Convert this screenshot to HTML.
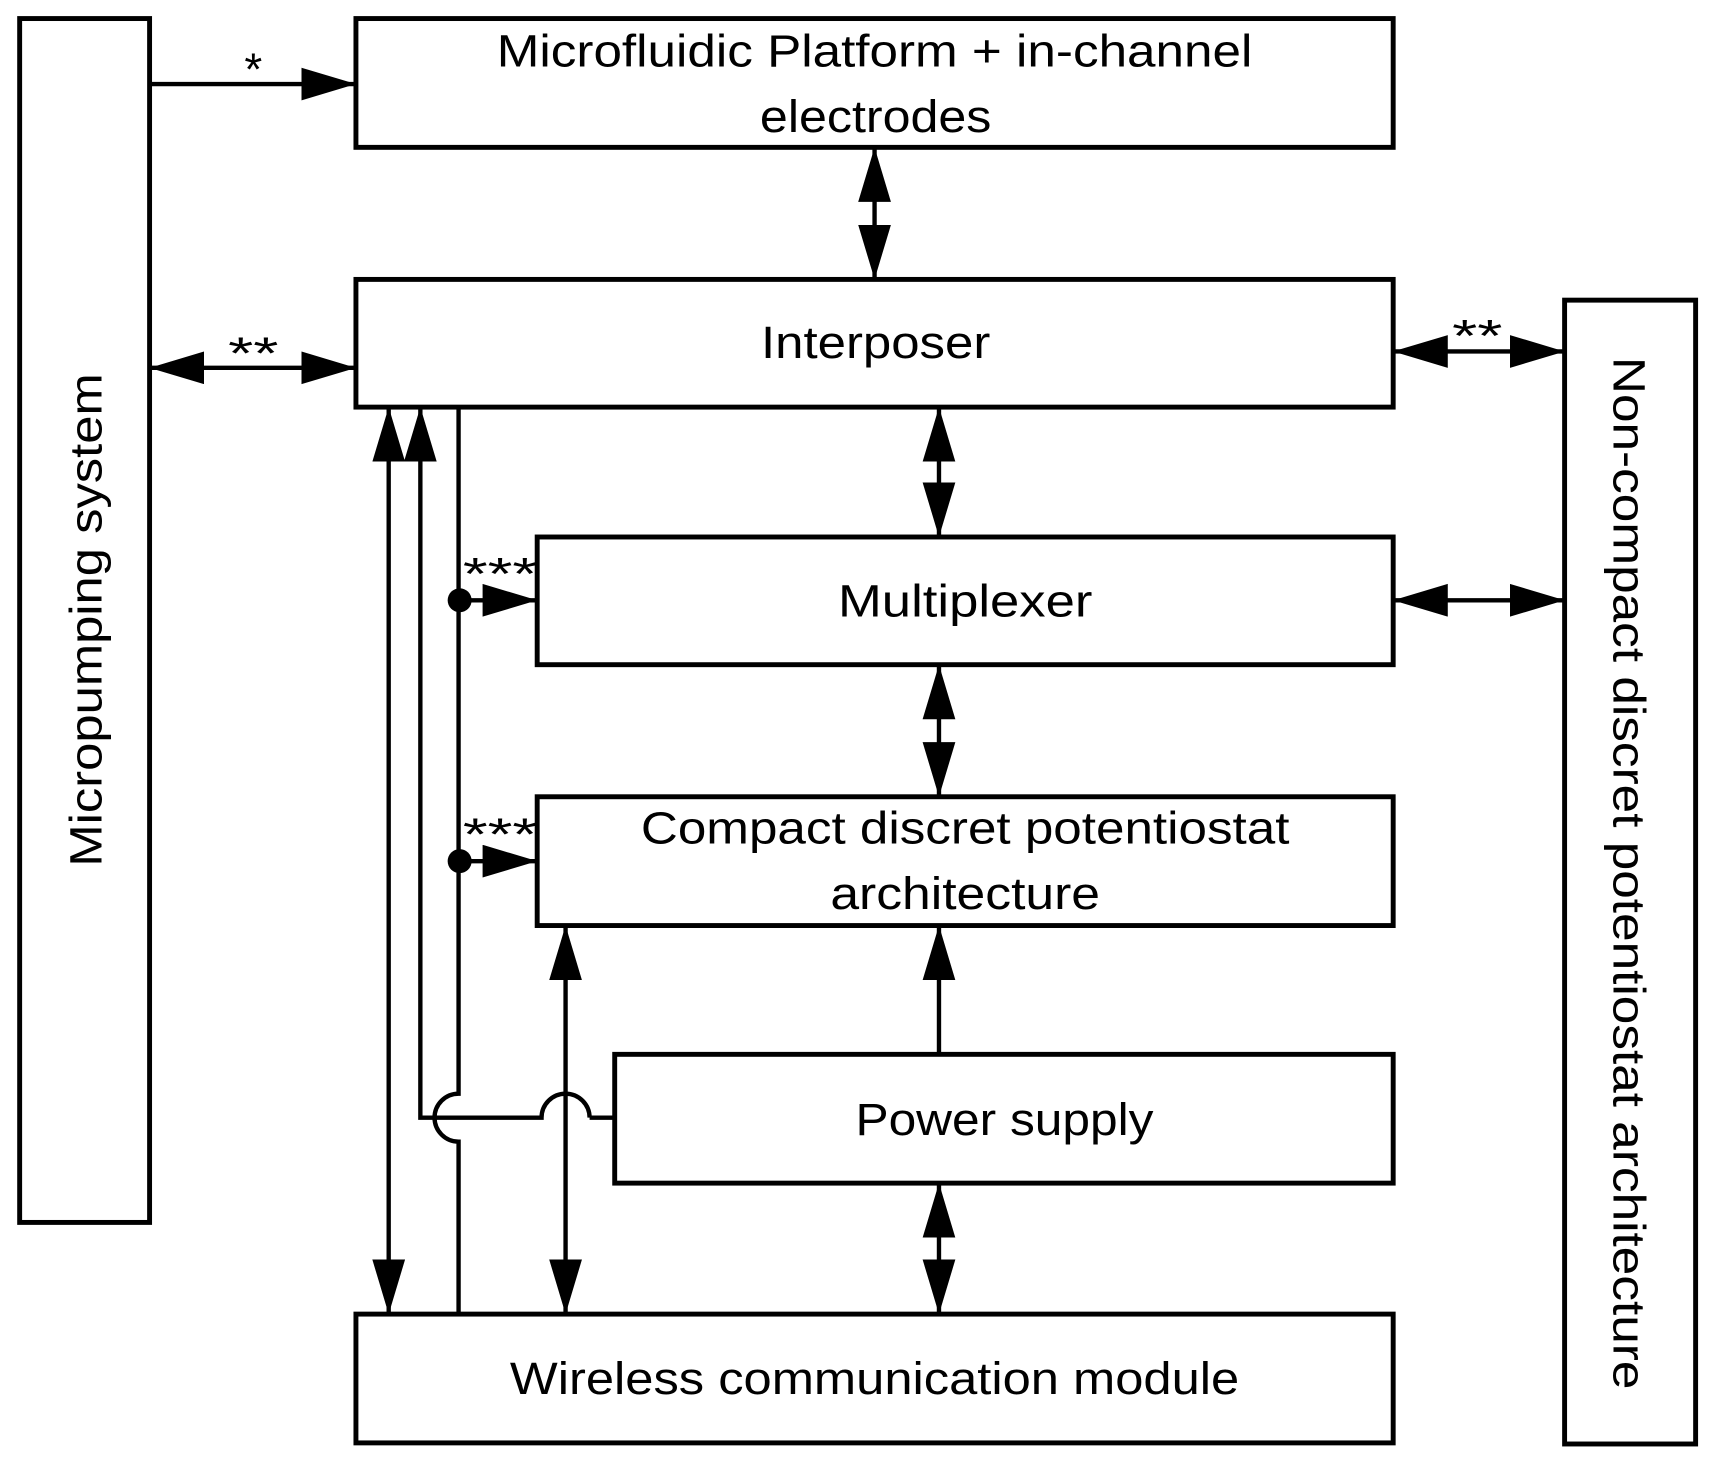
<!DOCTYPE html>
<html><head><meta charset="utf-8"><style>html,body{margin:0;padding:0;background:#fff}svg{display:block}</style></head>
<body>
<svg width="1712" height="1468" viewBox="0 0 1568 1345" preserveAspectRatio="none" xmlns="http://www.w3.org/2000/svg" font-family="Liberation Sans, sans-serif" fill="none" stroke="#000">
<defs>
<marker id="a" markerUnits="userSpaceOnUse" markerWidth="52" markerHeight="32" refX="50" refY="15" orient="auto-start-reverse"><path d="M0,0 L50,15 L0,30 Z" fill="#000" stroke="none"/></marker>
</defs>
<g stroke-width="4.5">
<rect x="18" y="17" width="119" height="1103"/>
<rect x="326" y="17" width="950" height="118"/>
<rect x="326" y="256" width="950" height="117"/>
<rect x="492" y="492" width="784" height="117"/>
<rect x="492" y="730" width="784" height="118"/>
<rect x="563" y="966" width="713" height="118"/>
<rect x="326" y="1204" width="950" height="118"/>
<rect x="1433" y="275" width="120" height="1048"/>
</g>
<g stroke-width="4">
<line x1="137" y1="77" x2="326" y2="77" marker-end="url(#a)"/>
<line x1="137" y1="337" x2="326" y2="337" marker-start="url(#a)" marker-end="url(#a)"/>
<line x1="1276" y1="322" x2="1433" y2="322" marker-start="url(#a)" marker-end="url(#a)"/>
<line x1="1276" y1="550" x2="1433" y2="550" marker-start="url(#a)" marker-end="url(#a)"/>
<line x1="801" y1="135" x2="801" y2="256" marker-start="url(#a)" marker-end="url(#a)"/>
<line x1="860" y1="373" x2="860" y2="492" marker-start="url(#a)" marker-end="url(#a)"/>
<line x1="860" y1="609" x2="860" y2="730" marker-start="url(#a)" marker-end="url(#a)"/>
<line x1="860" y1="966" x2="860" y2="848" marker-end="url(#a)"/>
<line x1="860" y1="1084" x2="860" y2="1204" marker-start="url(#a)" marker-end="url(#a)"/>
<line x1="356" y1="373" x2="356" y2="1204" marker-start="url(#a)" marker-end="url(#a)"/>
<line x1="518" y1="848" x2="518" y2="1204" marker-start="url(#a)" marker-end="url(#a)"/>
<polyline points="563,1024 540,1024"/>
<path d="M540,1024 A22,22 0 0 0 496,1024 L385,1024 L385,373" marker-end="url(#a)"/>
<path d="M420,373 L420,1002 A22,22 0 0 0 420,1046 L420,1204"/>
<line x1="420" y1="550" x2="492" y2="550" marker-end="url(#a)"/>
<line x1="420" y1="789" x2="492" y2="789" marker-end="url(#a)"/>
</g>
<circle cx="421" cy="550" r="11" fill="#000" stroke="none"/>
<circle cx="421" cy="789" r="11" fill="#000" stroke="none"/>
<g fill="#000" stroke="none" font-size="42" text-anchor="middle" lengthAdjust="spacingAndGlyphs">
<text x="801" y="61" textLength="692" lengthAdjust="spacingAndGlyphs">Microfluidic Platform + in-channel</text>
<text x="802" y="121" textLength="212" lengthAdjust="spacingAndGlyphs">electrodes</text>
<text x="802" y="328" textLength="210" lengthAdjust="spacingAndGlyphs">Interposer</text>
<text x="884" y="565" textLength="233" lengthAdjust="spacingAndGlyphs">Multiplexer</text>
<text x="884" y="773" textLength="594" lengthAdjust="spacingAndGlyphs">Compact discret potentiostat</text>
<text x="884" y="833" textLength="247" lengthAdjust="spacingAndGlyphs">architecture</text>
<text x="920" y="1040" textLength="273" lengthAdjust="spacingAndGlyphs">Power supply</text>
<text x="801" y="1277" textLength="668" lengthAdjust="spacingAndGlyphs">Wireless communication module</text>
<text transform="translate(93,568) rotate(-90)" textLength="452" lengthAdjust="spacingAndGlyphs">Micropumping system</text>
<text transform="translate(1478,800) rotate(90)" textLength="946" lengthAdjust="spacingAndGlyphs">Non-compact discret potentiostat architecture</text>
<g font-size="42">
<text x="232" y="78">*</text>
<text x="232" y="338" textLength="46" lengthAdjust="spacingAndGlyphs">**</text>
<text x="1353" y="322" textLength="46" lengthAdjust="spacingAndGlyphs">**</text>
<text x="458" y="540" textLength="68" lengthAdjust="spacingAndGlyphs">***</text>
<text x="458" y="779" textLength="68" lengthAdjust="spacingAndGlyphs">***</text>
</g>
</g>
</svg>
</body></html>
